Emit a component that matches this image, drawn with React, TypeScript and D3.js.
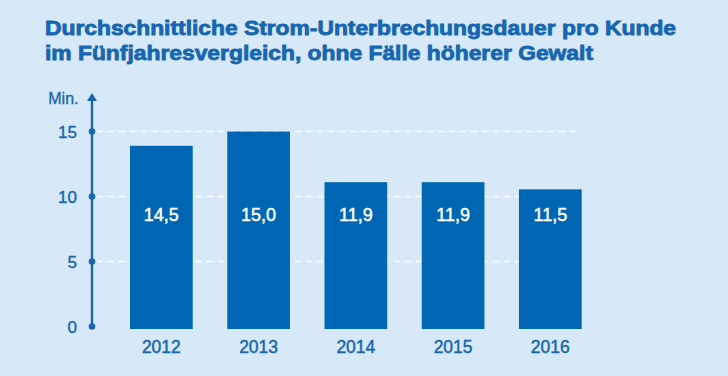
import React from "react";
import * as d3 from "d3";

const years = ["2012", "2013", "2014", "2015", "2016"];
// bar heights as drawn in the picture (minutes)
const barValues = [13.9, 15.0, 11.1, 11.1, 10.55];
// printed value labels
const valueLabels = ["14,5", "15,0", "11,9", "11,9", "11,5"];
const yTicks = [0, 5, 10, 15];
const titleLines = [
  "Durchschnittliche Strom-Unterbrechungsdauer pro Kunde",
  "im Fünfjahresvergleich, ohne Fälle höherer Gewalt",
];
const titleWidths = [631, 548];

const W = 728;
const H = 376;
const BG = "#d7e9f8";
const BLUE = "#0066b3";
const TEXT = "#1666b0";
const FONT = "Liberation Sans, Arial, Helvetica, sans-serif";

export default function App() {
  const axisX = 92;
  const y = d3.scaleLinear().domain([0, 15]).range([326.5, 131.5]);
  const x = d3
    .scaleBand<string>()
    .domain(years)
    .range([130, 581.7])
    .paddingInner(0.355)
    .paddingOuter(0);
  const barBottom = 329;

  return (
    <svg
      width={W}
      height={H}
      style={{ position: "absolute", left: 0, top: 0, display: "block" }}
    >
      <rect x={0} y={0} width={W} height={H} fill={BG} />
      {titleLines.map((t, i) => (
        <text
          key={i}
          x={45}
          y={35 + i * 25.3}
          fill={TEXT}
          stroke={TEXT}
          strokeWidth={0.8}
          fontFamily={FONT}
          fontWeight="bold"
          fontSize={20}
          textLength={titleWidths[i]}
          lengthAdjust="spacingAndGlyphs"
        >
          {t}
        </text>
      ))}
      {/* gridlines */}
      {yTicks
        .filter((t) => t > 0)
        .map((t) => (
          <line
            key={t}
            x1={axisX + 5}
            x2={582}
            y1={y(t)}
            y2={y(t)}
            stroke="#ffffff"
            strokeWidth={1.3}
            strokeDasharray="6 5"
          />
        ))}
      {/* bars */}
      {years.map((yr, i) => (
        <g key={yr}>
          <rect
            x={x(yr)}
            y={y(barValues[i])}
            width={x.bandwidth()}
            height={barBottom - y(barValues[i])}
            fill={BLUE}
          />
          <text
            x={(x(yr) as number) + x.bandwidth() / 2}
            y={220.5}
            fill="#ffffff"
            stroke="#ffffff"
            strokeWidth={0.45}
            fontFamily={FONT}
            fontSize={18}
            textAnchor="middle"
          >
            {valueLabels[i]}
          </text>
          <text
            x={(x(yr) as number) + x.bandwidth() / 2}
            y={352.7}
            fill={TEXT}
            stroke={TEXT}
            strokeWidth={0.45}
            fontFamily={FONT}
            fontSize={17.5}
            textAnchor="middle"
          >
            {yr}
          </text>
        </g>
      ))}
      {/* axis */}
      <line
        x1={axisX}
        x2={axisX}
        y1={y(0)}
        y2={99}
        stroke={TEXT}
        strokeWidth={2.4}
      />
      <path
        d={`M${axisX - 5},${101} L${axisX},${93} L${axisX + 5},${101} Z`}
        fill={TEXT}
      />
      {yTicks.map((t) => (
        <g key={t}>
          <circle cx={axisX} cy={y(t)} r={3.3} fill={TEXT} />
          <text
            x={77}
            y={y(t) + 6}
            fill={TEXT}
            stroke={TEXT}
            strokeWidth={0.4}
            fontFamily={FONT}
            fontSize={17}
            textAnchor="end"
          >
            {t}
          </text>
        </g>
      ))}
      <text
        x={78.5}
        y={104}
        fill={TEXT}
        stroke={TEXT}
        strokeWidth={0.3}
        fontFamily={FONT}
        fontSize={16}
        textAnchor="end"
      >
        Min.
      </text>
    </svg>
  );
}
